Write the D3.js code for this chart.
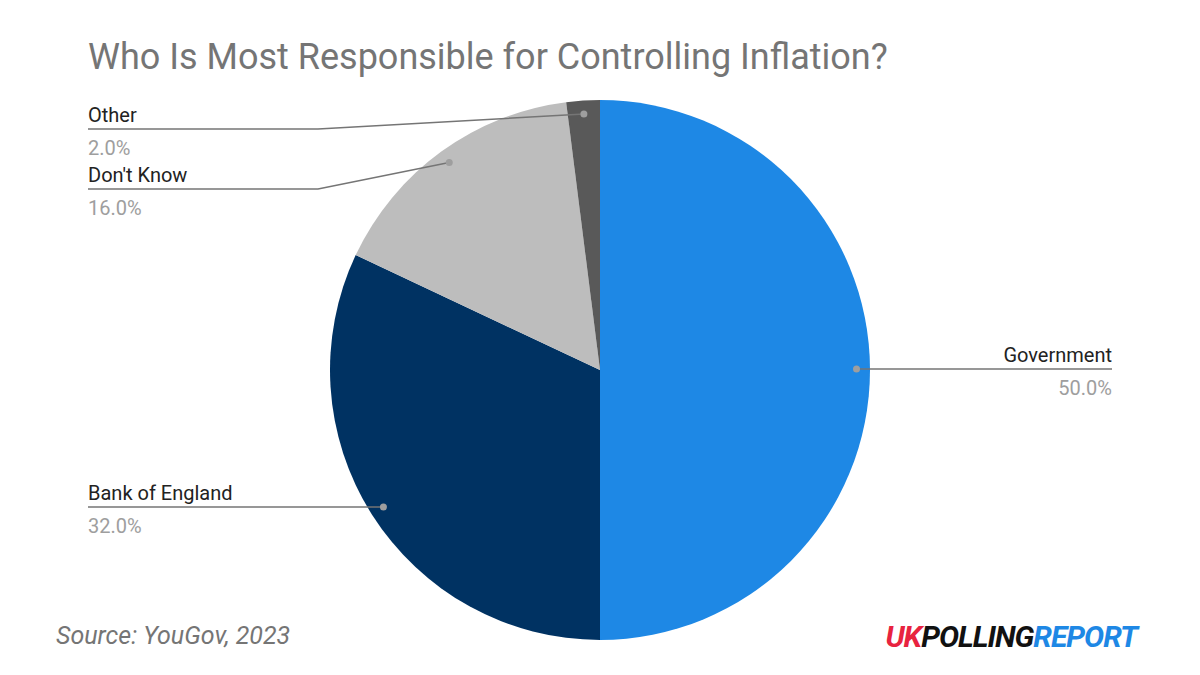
<!DOCTYPE html>
<html><head><meta charset="utf-8">
<script src="https://cdn.jsdelivr.net/npm/d3@7"></script>
<style>body{margin:0;background:#fff;font-family:Roboto,sans-serif}</style>
</head><body><div id="chart"></div>
<script>
var categories = ["Government", "Bank of England", "Don't Know", "Other"];
var values = [50, 32, 16, 2];
var colors = ["#1e88e5", "#003262", "#bdbdbd", "#595959"];

var width = 1200, height = 675, cx = 600, cy = 370, radius = 270;
var svg = d3.select("#chart").append("svg").attr("width", width).attr("height", height);

svg.append("text").attr("x", 88).attr("y", 69).attr("font-size", 36).attr("fill", "#757575")
  .text("Who Is Most Responsible for Controlling Inflation?");

var data = categories.map(function(c, i){ return {name: c, value: values[i], color: colors[i]}; });
var pie = d3.pie().sort(null).value(function(d){ return d.value; });
var arc = d3.arc().innerRadius(0).outerRadius(radius);
var g = svg.append("g").attr("transform", "translate(" + cx + "," + cy + ")");
var arcs = pie(data);
g.selectAll("path").data(arcs).join("path").attr("d", arc).attr("fill", function(d){ return d.data.color; });

// label layout: [side, textY] per slice
var layout = [["right", 355], ["left", 493], ["left", 175], ["left", 115]];
var dotR = 0.95;
arcs.forEach(function(a, i){
  var mid = (a.startAngle + a.endAngle) / 2;
  var px = cx + Math.sin(mid) * radius * dotR, py = cy - Math.cos(mid) * radius * dotR;
  var side = layout[i][0], ty = layout[i][1], ly = ty + 14;
  var path;
  if (side === "right") path = [[px, py], [1112, ly]];
  else if (Math.abs(py - ly) < 5) path = [[px, py], [88, ly]];
  else path = [[px, py], [318, ly], [88, ly]];
  if (Math.abs(py - ly) < 5) { path[0][1] = ly; }
  svg.append("path").attr("d", d3.line()(path)).attr("fill", "none").attr("stroke", "#757575").attr("stroke-width", 1.5);
  svg.append("circle").attr("cx", path[0][0]).attr("cy", path[0][1]).attr("r", 3.5).attr("fill", "#9e9e9e");
  var tx = side === "right" ? 1112 : 88, anchor = side === "right" ? "end" : "start";
  svg.append("text").attr("x", tx).attr("y", ty + 7).attr("text-anchor", anchor).attr("font-size", 20).attr("fill", "#222").text(a.data.name);
  svg.append("text").attr("x", tx).attr("y", ty + 40).attr("text-anchor", anchor).attr("font-size", 20).attr("fill", "#9e9e9e").text(a.data.value.toFixed(1) + "%");
});

svg.append("text").attr("x", 56).attr("y", 644).attr("font-size", 25).attr("font-style", "italic").attr("fill", "#757575")
  .text("Source: YouGov, 2023");

var logo = svg.append("text").attr("x", 1137).attr("y", 647).attr("text-anchor", "end").attr("font-size", 30)
  .attr("font-weight", "bold").attr("font-style", "italic").attr("letter-spacing", -1);
logo.append("tspan").attr("fill", "#e8233f").text("UK");
logo.append("tspan").attr("fill", "#111").text("POLLING");
logo.append("tspan").attr("fill", "#1e88e5").text("REPORT");
</script></body></html>
